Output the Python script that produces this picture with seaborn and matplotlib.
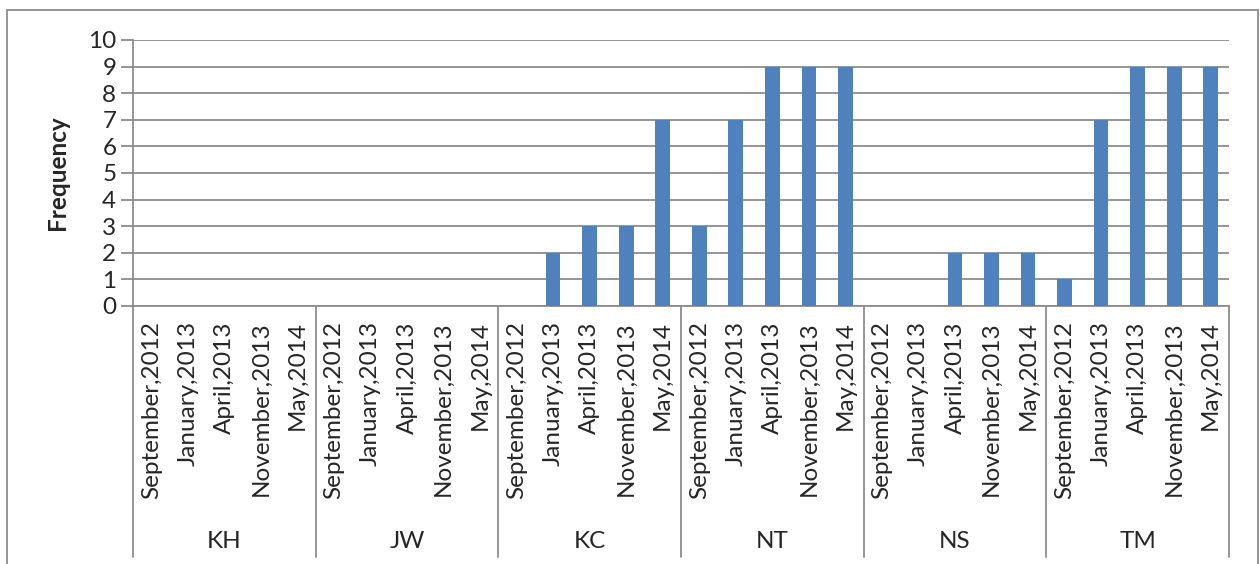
import matplotlib
matplotlib.use("Agg")
import matplotlib.pyplot as plt
from matplotlib.lines import Line2D
from matplotlib.patches import Rectangle
import seaborn as sns
import pandas as pd

groups = ["KH", "JW", "KC", "NT", "NS", "TM"]
dates = ["September,2012", "January,2013", "April,2013", "November,2013", "May,2014"]
values = {
    "KH": [0, 0, 0, 0, 0],
    "JW": [0, 0, 0, 0, 0],
    "KC": [0, 2, 3, 3, 7],
    "NT": [3, 7, 9, 9, 9],
    "NS": [0, 0, 2, 2, 2],
    "TM": [1, 7, 9, 9, 9],
}
y_ticks = list(range(0, 11))

rows = []
for g in groups:
    for d, v in zip(dates, values[g]):
        rows.append({"key": f"{g}|{d}", "group": g, "date": d, "freq": v})
df = pd.DataFrame(rows)

sns.set_theme(style="white")
plt.rcParams["font.family"] = ["Lato", "DejaVu Sans"]

W, H = 1260, 564
fig = plt.figure(figsize=(W / 100, H / 100), dpi=100)
x0, x1, ytop, ybot = 133, 1229, 40, 306
ax = fig.add_axes([x0 / W, 1 - ybot / H, (x1 - x0) / W, (ybot - ytop) / H])

grid_c = "#8c8c8c"
bar_c = "#4f81bd"
fs = 17.5

sns.barplot(data=df, x="key", y="freq", order=df["key"], color=bar_c,
            width=0.4, saturation=1, ax=ax, zorder=3)
for p in ax.patches:
    p.set_edgecolor("none")

n = len(df)
ax.set_xlim(-0.5, n - 0.5)
ax.set_ylim(0, 10)
ax.set_yticks(y_ticks)
ax.set_yticklabels([str(t) for t in y_ticks], fontsize=fs)
ax.yaxis.grid(True, color=grid_c, linewidth=1.3, zorder=0)
ax.set_axisbelow(True)
ax.tick_params(axis="y", length=9, width=1.3, color=grid_c, pad=3, left=True)
ax.set_xticks(range(n))
ax.set_xticklabels(df["date"], rotation=90, fontsize=fs, ha="center", va="top")
ax.tick_params(axis="x", length=0, pad=11)
ax.set_xlabel("")
ax.set_ylabel("Frequency", fontsize=fs, fontweight="bold", labelpad=14)

for side in ["top", "right"]:
    ax.spines[side].set_visible(False)
for side in ["left", "bottom"]:
    ax.spines[side].set_color(grid_c)
    ax.spines[side].set_linewidth(1.3)

# group separators below the axis and group names
fig_bottom_line = 1 - 557 / H
for i in range(len(groups) + 1):
    xf = (x0 + i * (x1 - x0) / len(groups)) / W
    fig.add_artist(Line2D([xf, xf], [1 - ybot / H, fig_bottom_line],
                          color=grid_c, linewidth=1.3))
for i, g in enumerate(groups):
    xc = (x0 + (i + 0.5) * (x1 - x0) / len(groups)) / W
    fig.text(xc, 1 - 541 / H, g, ha="center", va="center", fontsize=fs)

# outer chart frame
fig.add_artist(Rectangle((7 / W, -0.05), (1258 - 7) / W, 1.05 - 10 / H,
                         fill=False, edgecolor="#8c8c8c", linewidth=1.3,
                         transform=fig.transFigure))

fig.savefig("out.png", dpi=100)
